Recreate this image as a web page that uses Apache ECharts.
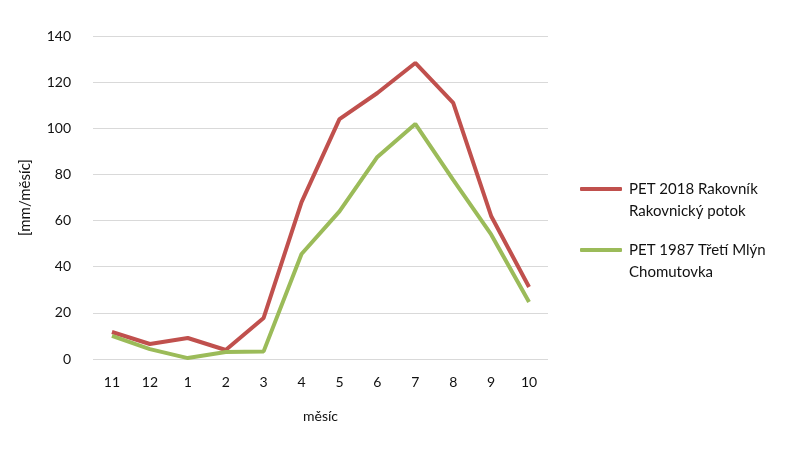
<!DOCTYPE html>
<html>
<head>
<meta charset="utf-8">
<script src="https://cdn.jsdelivr.net/npm/echarts@6/dist/echarts.min.js"></script>
<style>
  html, body { margin: 0; padding: 0; background: #fff; }
  #chart { width: 800px; height: 451px; }
</style>
</head>
<body>
<div id="chart"></div>
<script>
// měsíce hydrologického roku
const months = ['11', '12', '1', '2', '3', '4', '5', '6', '7', '8', '9', '10'];
const rakovnik2018 = [11.7, 6.5, 9.1, 3.9, 17.8, 68, 104, 115.3, 128.3, 111, 62, 31.2];
const tretiMlyn1987 = [10, 4.3, 0.4, 3, 3.3, 45.5, 64, 87.6, 101.9, 77.6, 54, 24.7];
const seriesNames = ['PET 2018 Rakovník\nRakovnický potok', 'PET 1987 Třetí Mlýn\nChomutovka'];

const font = 'Lato, "Open Sans", sans-serif';
const chart = echarts.init(document.getElementById('chart'));

chart.setOption({
  animation: false,
  textStyle: { fontFamily: font },
  grid: { left: 93, right: 252, top: 36, bottom: 92 },
  legend: {
    orient: 'vertical',
    left: 580,
    top: 156,
    padding: 0,
    itemWidth: 42,
    itemHeight: 4,
    itemGap: -5,
    icon: 'roundRect',
    // prázdný první řádek -> čára je u prvního řádku textu
    formatter: name => ' \n' + name,
    textStyle: { fontSize: 15, color: '#111', lineHeight: 22, fontFamily: font, padding: [0, 0, 0, 2] },
    data: seriesNames
  },
  xAxis: {
    type: 'category',
    data: months,
    boundaryGap: true,
    name: 'měsíc',
    nameLocation: 'middle',
    nameGap: 50,
    nameTextStyle: { fontSize: 14, color: '#111' },
    axisLine: { show: false },
    axisTick: { show: false },
    axisLabel: { fontSize: 14, color: '#111', margin: 16 }
  },
  yAxis: {
    type: 'value',
    min: 0,
    max: 140,
    interval: 20,
    name: '[mm/měsíc]',
    nameLocation: 'middle',
    nameGap: 60,
    nameTextStyle: { fontSize: 15, color: '#111' },
    axisLabel: { fontSize: 14, color: '#111', margin: 22 },
    splitLine: { lineStyle: { color: '#d9d9d9', width: 1 } }
  },
  series: [
    {
      name: seriesNames[0],
      type: 'line',
      data: rakovnik2018,
      symbol: 'none',
      lineStyle: { color: '#c0504d', width: 4 },
      itemStyle: { color: '#c0504d' }
    },
    {
      name: seriesNames[1],
      type: 'line',
      data: tretiMlyn1987,
      symbol: 'none',
      lineStyle: { color: '#9bbb59', width: 4 },
      itemStyle: { color: '#9bbb59' }
    }
  ]
});
</script>
</body>
</html>
